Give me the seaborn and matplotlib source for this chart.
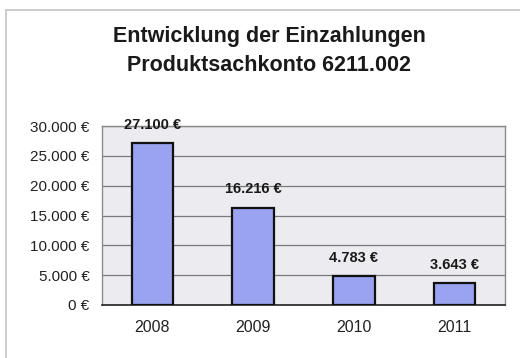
import matplotlib
matplotlib.use("Agg")
import matplotlib.pyplot as plt
from matplotlib.lines import Line2D
from matplotlib.ticker import FuncFormatter, MultipleLocator
import seaborn as sns
import pandas as pd

years = ["2008", "2009", "2010", "2011"]
einzahlungen = [27100, 16216, 4783, 3643]
title_lines = ["Entwicklung der Einzahlungen", "Produktsachkonto 6211.002"]

sns.set_theme(style="white")
plt.rcParams["font.family"] = ["Liberation Sans", "DejaVu Sans"]


def euro(v, _pos=None):
    return f"{int(round(v)):,}".replace(",", ".") + " €"


df = pd.DataFrame({"Jahr": years, "Einzahlungen": einzahlungen})

fig = plt.figure(figsize=(5.2, 3.58), dpi=100)
fig.patch.set_facecolor("white")

# light frame around the chart object
fig.add_artist(Line2D([6 / 520, 6 / 520], [0, 1 - 10 / 358], transform=fig.transFigure,
                      color="#c4c4c4", lw=1.2))
fig.add_artist(Line2D([6 / 520, 1], [1 - 10 / 358, 1 - 10 / 358], transform=fig.transFigure,
                      color="#c4c4c4", lw=1.2))

ax = fig.add_axes([102 / 520, 1 - 305 / 358, 403 / 520, 179 / 358])
ax.set_facecolor("#ececf0")

sns.barplot(data=df, x="Jahr", y="Einzahlungen", ax=ax, color="#9aa3f0",
            width=0.41, edgecolor="#111111", linewidth=1.6, saturation=1, zorder=3)

ax.set_ylim(0, 30000)
ax.set_xlim(-0.5, len(years) - 0.5)
ax.yaxis.set_major_locator(MultipleLocator(5000))
ax.yaxis.set_major_formatter(FuncFormatter(euro))
ax.grid(axis="y", color="#7a7a7a", linewidth=0.9, zorder=1)
ax.set_axisbelow(True)
ax.set_xlabel("")
ax.set_ylabel("")

for side in ["top", "right", "left"]:
    ax.spines[side].set_color("#8a8a8a")
    ax.spines[side].set_linewidth(1.0)
ax.spines["bottom"].set_color("#222222")
ax.spines["bottom"].set_linewidth(1.2)

ax.tick_params(axis="y", length=3, color="#555555", pad=6, labelsize=11, labelcolor="#222222")
ax.tick_params(axis="x", length=0, pad=11, labelsize=11.5, labelcolor="#222222")

for i, v in enumerate(einzahlungen):
    ax.annotate(euro(v), xy=(i, v), xytext=(0, 13.5), textcoords="offset points",
                ha="center", va="center", fontsize=10.5, fontweight="bold",
                color="#1a1a1a", zorder=5)

fig.text(269 / 520, 1 - 51 / 358, "\n".join(title_lines), ha="center", va="center",
         fontsize=15.5, fontweight="bold", color="#1a1a1a", linespacing=1.45)

fig.savefig("out.png", dpi=100)
